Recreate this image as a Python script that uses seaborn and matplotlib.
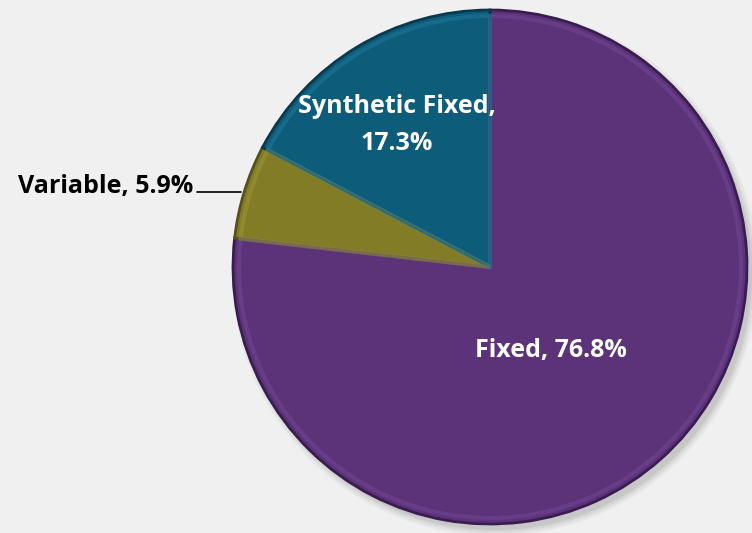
import matplotlib.pyplot as plt
import seaborn as sns
from matplotlib.patches import Circle

# data
labels = ["Fixed", "Variable", "Synthetic Fixed"]
shares = [76.8, 5.9, 17.3]
colors = ["#5c3279", "#827c27", "#0d5c7a"]
edge_colors = ["#3a1d50", "#56521a", "#063a50"]
bevel_colors = ["#7a52a0", "#a8a240", "#2c86aa"]

sns.set_theme(style="white")
plt.rcParams['font.family'] = ['Open Sans', 'DejaVu Sans']

fig = plt.figure(figsize=(7.52, 5.33), dpi=100)
fig.patch.set_facecolor("#f0f0f0")
ax = fig.add_axes([0, 0, 1, 1])
ax.set_facecolor("#f0f0f0")

cx, cy, r = 490, 266, 257

# soft drop shadow
for i, a in enumerate([0.05, 0.06, 0.08, 0.10]):
    ax.add_patch(Circle((cx + 5, cy - 6), r + 6 - i * 2, color="#555555", alpha=a, lw=0, zorder=0))

wedges, _ = ax.pie(shares, colors=colors, startangle=90, counterclock=False,
                   center=(cx, cy), radius=r, frame=True,
                   wedgeprops=dict(linewidth=2))
for w, ec in zip(wedges, edge_colors):
    w.set_edgecolor(ec)
    w.set_zorder(2)

# bevel highlight just inside the edges
inner, _ = ax.pie(shares, colors=colors, startangle=90, counterclock=False,
                  center=(cx, cy), radius=r - 6, frame=True,
                  wedgeprops=dict(linewidth=3, fill=False, alpha=0.35))
for w, bc in zip(inner, bevel_colors):
    w.set_edgecolor(bc)
    w.set_zorder(3)

ax.set_xlim(0, 752)
ax.set_ylim(0, 533)
ax.set_aspect("equal")
ax.axis("off")

ax.text(551, 183, f"{labels[0]}, {shares[0]}%", color="white", fontsize=18,
        fontweight="bold", ha="center", va="center", zorder=5)
ax.text(397, 408, f"{labels[2]},\n{shares[2]}%", color="white", fontsize=18,
        fontweight="bold", ha="center", va="center", linespacing=1.65, zorder=5)
ax.text(193, 347, f"{labels[1]}, {shares[1]}%", color="black", fontsize=18,
        fontweight="bold", ha="right", va="center", zorder=5)
ax.plot([197, 241], [341, 341], color="black", lw=1.2, zorder=5)

fig.savefig("out.png", dpi=100, facecolor=fig.get_facecolor())
